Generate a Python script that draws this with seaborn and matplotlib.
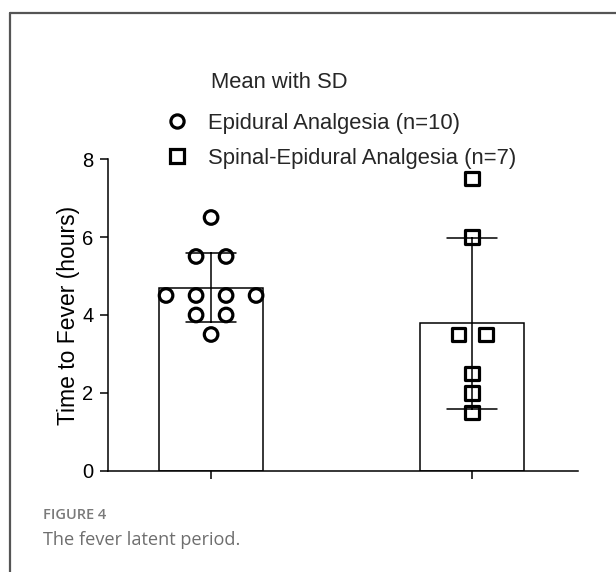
import numpy as np
import pandas as pd
import matplotlib
matplotlib.use("Agg")
import matplotlib.pyplot as plt
from matplotlib.lines import Line2D
import seaborn as sns

# ---- data ----
groups = ["Epidural Analgesia (n=10)", "Spinal-Epidural Analgesia (n=7)"]
epidural = [6.5, 5.5, 5.5, 4.5, 4.5, 4.5, 4.5, 4.0, 4.0, 3.5]
spinal_epidural = [7.5, 6.0, 3.5, 3.5, 2.5, 2.0, 1.5]
y_ticks = [0, 2, 4, 6, 8]
legend_title = "Mean with SD"
y_label = "Time to Fever (hours)"
caption_head = "FIGURE 4"
caption_text = "The fever latent period."

sns.set_theme(style="ticks")
plt.rcParams["font.family"] = ["Liberation Sans", "DejaVu Sans"]

values = [epidural, spinal_epidural]
df = pd.DataFrame({
    "group": np.repeat(groups, [len(v) for v in values]),
    "value": np.concatenate(values),
})

# symmetric horizontal spread of identical values (scatter-dot layout)
spreads = [0.115, 0.105]
xs = []
for gi, v in enumerate(values):
    v = np.asarray(v)
    seen = {}
    for val in v:
        n = int((v == val).sum())
        k = seen.get(val, 0)
        seen[val] = k + 1
        xs.append(gi + (k - (n - 1) / 2) * spreads[gi])
df["xpos"] = xs

fig = plt.figure(figsize=(6.16, 5.72), dpi=100)
ax = fig.add_axes([108 / 616, 1 - 471 / 572, (578 - 108) / 616, (471 - 159) / 572])

lw = 1.1
sns.barplot(data=df, x="group", y="value", errorbar="sd", width=0.4,
            color="white", edgecolor="black", linewidth=lw, capsize=0.19,
            err_kws={"color": "black", "linewidth": lw}, ax=ax)

markers = ["o", "s"]
for gi, g in enumerate(groups):
    sub = df[df["group"] == g]
    sns.scatterplot(x=sub["xpos"], y=sub["value"], marker=markers[gi], s=95,
                    facecolor="none", edgecolor="black", linewidth=2.3,
                    ax=ax, zorder=5)

ax.set_xlim(-0.395, 1.406)
ax.set_ylim(0, 8)
ax.set_yticks(y_ticks)
ax.set_xticks([0, 1])
ax.set_xticklabels(["", ""])
ax.set_xlabel("")
ax.set_ylabel(y_label, fontsize=16.5, labelpad=1.5, color="black")
ax.tick_params(axis="both", direction="out", length=6, width=lw, color="black",
               labelsize=14.5, labelcolor="black", pad=4.5)
for s in ["top", "right"]:
    ax.spines[s].set_visible(False)
for s in ["left", "bottom"]:
    ax.spines[s].set_linewidth(lw)
    ax.spines[s].set_color("black")

# legend
handles = [Line2D([], [], marker=m, linestyle="none", markersize=9.5,
                  markerfacecolor="none", markeredgecolor="black",
                  markeredgewidth=2.3) for m in markers]
fig.legend(handles, groups, loc="upper left", bbox_to_anchor=(166 / 616, 1 - 113 / 572),
           frameon=False, fontsize=15.8, handlelength=1.0, handletextpad=0.9,
           labelspacing=0.62, borderpad=0, borderaxespad=0)
fig.text(211 / 616, 1 - 83 / 572, legend_title, fontsize=15.8, va="center", ha="left")

# figure frame (left and top)
fig.add_artist(Line2D([9.5 / 616, 9.5 / 616], [0, 1 - 12.5 / 572], transform=fig.transFigure,
                      color="#555555", linewidth=1.6))
fig.add_artist(Line2D([9.5 / 616, 1], [1 - 12.5 / 572, 1 - 12.5 / 572], transform=fig.transFigure,
                      color="#555555", linewidth=1.6))

# caption
fig.text(43 / 616, 1 - 515 / 572, caption_head, fontsize=10.5, color="#7a7a7a",
         family=["Open Sans", "DejaVu Sans"], fontweight="semibold", va="center")
fig.text(43 / 616, 1 - 540 / 572, caption_text, fontsize=13.1, color="#6e6e6e",
         family=["Open Sans", "DejaVu Sans"], va="center")

fig.savefig("out.png", dpi=100)
